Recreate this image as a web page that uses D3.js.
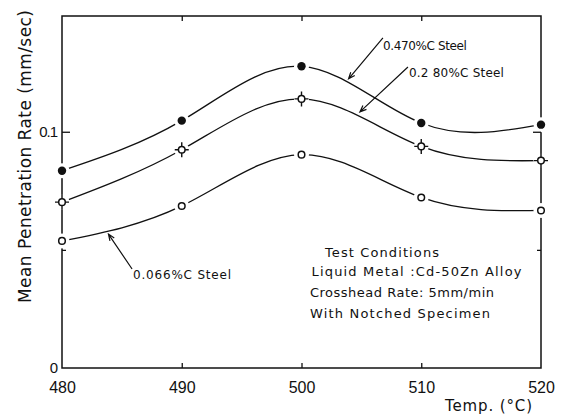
<!DOCTYPE html>
<html>
<head>
<meta charset="utf-8">
<script src="https://cdn.jsdelivr.net/npm/d3@7"></script>
<style>
  html, body { margin: 0; padding: 0; background: #fff; }
  svg { display: block; }
  text { fill: #111; }
</style>
</head>
<body>
<svg id="chart" width="565" height="415"></svg>
<script>
// Temperatures (°C) at which penetration was measured
const temps = [480, 490, 500, 510, 520];

// Mean penetration rate (mm/sec) for each steel
const steel0470 = [0.0835, 0.1047, 0.1277, 0.1037, 0.1030];
const steel0280 = [0.0702, 0.0924, 0.1139, 0.0938, 0.0878];
const steel0066 = [0.0538, 0.0686, 0.0903, 0.0722, 0.0667];

// Axis ticks
const xTickValues = [480, 490, 500, 510, 520];
const xInnerTicks = [490, 500, 510];
const yMajorTicks = [0, 0.1];
const yMinorTicks = [0.05];

// Callout labels: arrow tip and tail in data units
const callouts = [
  { text: "0.470%C Steel", tip: [503.93, 0.1224], tail: [506.8, 0.1397], len: 84, dx: 0, dy: 12 },
  { text: "0.2 80%C Steel", tip: [504.88, 0.1084], tail: [508.89, 0.1274], len: 95, dx: 1, dy: 10 },
  { text: "0.066%C  Steel", tip: [483.88, 0.0567], tail: [485.85, 0.0419], len: 98, dx: 1, dy: 9.5 }
];

const conditions = [
  { text: "Test Conditions", x: 325, y: 257, len: 114 },
  { text: "Liquid Metal :Cd-50Zn Alloy", x: 311.5, y: 276, len: 210 },
  { text: "Crosshead Rate: 5mm/min", x: 310, y: 296.5, len: 184 },
  { text: "With Notched Specimen", x: 310, y: 318, len: 180 }
];

(function draw() {
  const svg = d3.select("#chart");
  const frame = { left: 62, right: 541, top: 16, bottom: 368 };

  const x = d3.scaleLinear().domain([480, 520]).range([frame.left, frame.right]);
  const y = d3.scaleLinear().domain([0, 0.149]).range([frame.bottom, frame.top]);

  const ink = "#111";

  // Frame
  svg.append("rect")
    .attr("x", frame.left).attr("y", frame.top)
    .attr("width", frame.right - frame.left).attr("height", frame.bottom - frame.top)
    .attr("fill", "none").attr("stroke", ink).attr("stroke-width", 1.5);

  // Series curves
  const series = [
    { values: steel0470, kind: "filled" },
    { values: steel0280, kind: "cross" },
    { values: steel0066, kind: "open" }
  ];
  const line = d3.line()
    .x(d => x(d[0]))
    .y(d => y(d[1]))
    .curve(d3.curveNatural);

  const curves = svg.append("g");
  series.forEach(s => {
    curves.append("path")
      .datum(temps.map((t, i) => [t, s.values[i]]))
      .attr("d", line)
      .attr("fill", "none")
      .attr("stroke", ink)
      .attr("stroke-width", 1.3);
  });

  // White halos leave a gap in curves and frame around each point
  const halos = svg.append("g");
  series.forEach(s => {
    temps.forEach((t, i) => {
      halos.append("circle")
        .attr("cx", x(t)).attr("cy", y(s.values[i]))
        .attr("r", 7.5).attr("fill", "#fff");
    });
  });

  // Tick labels from d3 axes
  const xAxis = svg.append("g")
    .attr("transform", `translate(0,${frame.bottom})`)
    .call(d3.axisBottom(x).tickValues(xTickValues).tickSize(0).tickPadding(14).tickFormat(d3.format("d")));
  xAxis.select(".domain").remove();
  xAxis.selectAll("text").attr("font-family", "Liberation Sans, Arial, sans-serif").attr("font-size", 16).attr("fill", ink);

  // Inward tick marks on all four sides
  const inner = (axis, ticks, size, tr) => {
    const g = svg.append("g").attr("transform", tr)
      .call(axis.tickValues(ticks).tickSize(size).tickFormat(""));
    g.select(".domain").remove();
    g.selectAll("line").attr("stroke", ink).attr("stroke-width", 1.3);
    return g;
  };
  inner(d3.axisBottom(x), xInnerTicks, -5, `translate(0,${frame.bottom})`);
  inner(d3.axisTop(x), xInnerTicks, -5, `translate(0,${frame.top})`);
  inner(d3.axisLeft(y), [0.1], -8, `translate(${frame.left},0)`);
  inner(d3.axisLeft(y), yMinorTicks, -4, `translate(${frame.left},0)`);
  inner(d3.axisRight(y), [0.1], -8, `translate(${frame.right},0)`);
  inner(d3.axisRight(y), yMinorTicks, -4, `translate(${frame.right},0)`);

  const yAxis = svg.append("g")
    .attr("transform", `translate(${frame.left},0)`)
    .call(d3.axisLeft(y).tickValues(yMajorTicks).tickSize(0).tickPadding(5)
      .tickFormat(d => d === 0 ? "0" : String(d)));
  yAxis.select(".domain").remove();
  yAxis.selectAll("text").attr("font-family", "Liberation Sans, Arial, sans-serif")
    .attr("font-size", 15).attr("fill", ink).attr("letter-spacing", -1);

  // Markers
  const marks = svg.append("g");
  series.forEach(s => {
    temps.forEach((t, i) => {
      const cx = x(t), cy = y(s.values[i]);
      if (s.kind === "filled") {
        marks.append("circle").attr("cx", cx).attr("cy", cy).attr("r", 4.2).attr("fill", ink);
      } else {
        if (s.kind === "cross") {
          marks.append("path")
            .attr("d", `M${cx - 7},${cy}H${cx + 7}M${cx},${cy - 7.5}V${cy + 7.5}`)
            .attr("stroke", ink).attr("stroke-width", 1.4);
        }
        marks.append("circle").attr("cx", cx).attr("cy", cy).attr("r", 3.3)
          .attr("fill", "#fff").attr("stroke", ink).attr("stroke-width", 1.5);
      }
    });
  });

  // Callout arrows and labels
  const notes = svg.append("g");
  callouts.forEach(c => {
    const tx = x(c.tip[0]), ty = y(c.tip[1]);
    const sx = x(c.tail[0]), sy = y(c.tail[1]);
    const ang = Math.atan2(sy - ty, sx - tx);
    const barb = 7, spread = 0.38;
    const b1 = [tx + barb * Math.cos(ang + spread), ty + barb * Math.sin(ang + spread)];
    const b2 = [tx + barb * Math.cos(ang - spread), ty + barb * Math.sin(ang - spread)];
    notes.append("path")
      .attr("d", `M${sx},${sy}L${tx},${ty}M${b1[0]},${b1[1]}L${tx},${ty}L${b2[0]},${b2[1]}`)
      .attr("fill", "none").attr("stroke", ink).attr("stroke-width", 1.2);
    notes.append("text")
      .attr("x", sx + c.dx).attr("y", sy + c.dy)
      .attr("font-family", "DejaVu Sans, sans-serif").attr("font-size", 12)
      .attr("textLength", c.len).attr("lengthAdjust", "spacing")
      .text(c.text);
  });

  // Test conditions block
  svg.append("g").selectAll("text").data(conditions).join("text")
    .attr("x", d => d.x).attr("y", d => d.y)
    .attr("font-family", "DejaVu Sans, sans-serif").attr("font-size", 13)
    .attr("textLength", d => d.len).attr("lengthAdjust", "spacing")
    .text(d => d.text);

  // Axis titles
  svg.append("text")
    .attr("transform", "translate(31,156.5) rotate(-90)")
    .attr("text-anchor", "middle")
    .attr("font-family", "DejaVu Sans, sans-serif").attr("font-size", 17)
    .attr("textLength", 293).attr("lengthAdjust", "spacing")
    .text("Mean Penetration Rate (mm/sec)");

  svg.append("text")
    .attr("x", 445).attr("y", 410.5)
    .attr("font-family", "DejaVu Sans, sans-serif").attr("font-size", 15)
    .attr("textLength", 87).attr("lengthAdjust", "spacing")
    .text("Temp. (°C)");
})();
</script>
</body>
</html>
